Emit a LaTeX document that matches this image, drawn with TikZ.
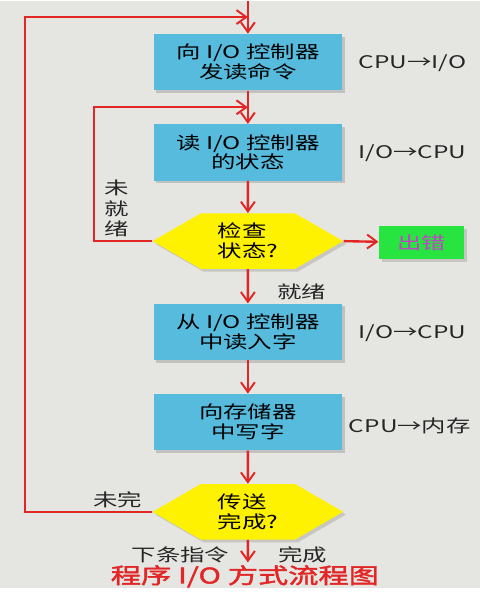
\documentclass[tikz,border=0pt]{standalone}
\usepackage{fontspec}
\setmainfont{Noto Sans CJK SC}[FakeStretch=1.4]
\newfontfamily\titlefont{Noto Sans CJK SC}[FakeStretch=1.4,FakeBold=2]
\usetikzlibrary{shapes.symbols,arrows.meta,shadows}
\definecolor{bggray}{RGB}{229,229,225}
\definecolor{boxblue}{RGB}{86,187,221}
\definecolor{hexyellow}{RGB}{255,242,0}
\definecolor{okgreen}{RGB}{40,228,64}
\definecolor{flowred}{RGB}{226,38,38}
\definecolor{errmag}{RGB}{196,64,200}

\begin{document}
\begin{tikzpicture}[x=0.025cm,y=-0.025cm,
  box/.style={fill=boxblue,minimum width=4.75cm,minimum height=1.42cm,align=center,
    font=\fontsize{12.5}{14.2}\selectfont,
    drop shadow={opacity=0.35,shadow xshift=2pt,shadow yshift=-2pt}},
  testbox/.style={signal,signal to=west and east,signal pointer angle=60,fill=hexyellow,
    minimum width=4.8cm,minimum height=1.4cm,inner xsep=2pt,align=left,
    font=\fontsize{12.5}{14.2}\selectfont,
    drop shadow={opacity=0.3,shadow xshift=2pt,shadow yshift=-2pt}},
  endbox/.style={fill=okgreen,minimum width=2.15cm,minimum height=0.82cm,
    font=\fontsize{12.5}{14.2}\selectfont,text=errmag,
    drop shadow={opacity=0.3,shadow xshift=2pt,shadow yshift=-2pt}},
  lbl/.style={font=\fontsize{12.5}{14.2}\selectfont,text=black!85},
  flow/.style={draw=flowred,line width=1.7pt},
  tip/.style={-{Straight Barb[length=7pt,width=10pt,line width=1.4pt]}}]
\fill[bggray] (0,0) rectangle (484,592);

\coordinate (in) at (250,0);
\coordinate (j1) at (250,16);
\coordinate (j2) at (250,107);
\coordinate (out) at (250,566);

\node[box] (send) at (250,61.5) {向 I/O 控制器\\发读命令};
\node[box] (stat) at (250,152.5) {读 I/O 控制器\\的状态};
\node[testbox] (check) at (250,242) {检查\\状态?};
\node[endbox] (err) at (425,243.5) {出错};
\node[box] (rd) at (250,333.5) {从 I/O 控制器\\中读入字};
\node[box] (wr) at (250,424.5) {向存储器\\中写字};
\node[testbox] (done) at (250,515) {传送\\完成?};

\node[lbl] (l1) at (416,62) {CPU→I/O};
\node[lbl] (l2) at (416,153) {I/O→CPU};
\node[lbl] (l3) at (416,335) {I/O→CPU};
\node[lbl,anchor=west] (l4) at (347,428) {CPU→内存};
\node[lbl,align=center,font=\fontsize{12.5}{14.8}\selectfont] (nr) at (118,209) {未\\就\\绪};
\node[lbl] (ok) at (304,293) {就绪};
\node[lbl] (nd) at (119,503) {未完};
\node[lbl] (nx) at (182,558) {下条指令};
\node[lbl] (fin) at (305,558) {完成};
\node[text=flowred,font=\titlefont\fontsize{15.5}{18}\selectfont] (title) at (247,580) {程序 I/O 方式流程图};

\draw[flow,tip] (in) -- (send);
\draw[flow,tip] (send) -- (stat);
\draw[flow,tip] (stat) -- (check);
\draw[flow,tip] (check) -- (rd);
\draw[flow,tip] (rd) -- (wr);
\draw[flow,tip] (wr) -- (done);
\draw[flow,tip] (done) -- (out);
\draw[flow,tip] (check.east) -- (err);
\draw[flow,tip] (check.west) -- (95,242) |- (j2);
\draw[flow,tip] (done.west) -- (25,515) |- (j1);
\end{tikzpicture}
\end{document}
